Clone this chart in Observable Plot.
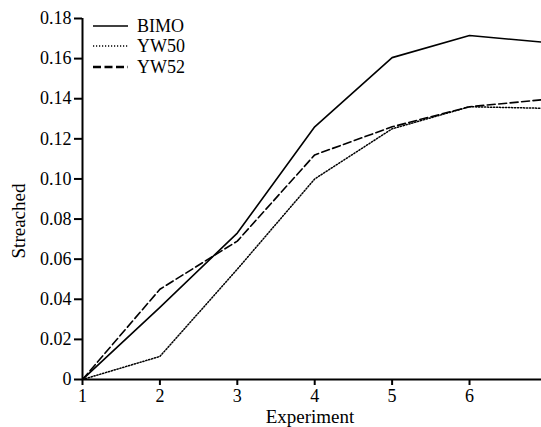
<!DOCTYPE html>
<html>
<head>
<meta charset="utf-8">
<script src="https://cdn.jsdelivr.net/npm/d3@7"></script>
<script src="https://cdn.jsdelivr.net/npm/@observablehq/plot@0.6"></script>
<style>
  html, body { margin: 0; padding: 0; background: #fff; }
  #chart svg { display: block; }
</style>
</head>
<body>
<div id="chart"></div>
<script>
const experiments = [1, 2, 3, 4, 5, 6, 7];
const bimo = [0, 0.036, 0.073, 0.126, 0.1605, 0.1715, 0.168];
const yw50 = [0, 0.0115, 0.055, 0.100, 0.125, 0.136, 0.1352];
const yw52 = [0, 0.045, 0.069, 0.112, 0.126, 0.136, 0.1397];
const seriesNames = ["BIMO", "YW50", "YW52"];
const seriesValues = [bimo, yw50, yw52];
const yTicks = [0, 0.02, 0.04, 0.06, 0.08, 0.10, 0.12, 0.14, 0.16, 0.18];
const xTicks = [1, 2, 3, 4, 5, 6];

const dashes = { BIMO: null, YW50: "1.2,1.8", YW52: "8,3.5" };
const widths = { BIMO: 1.6, YW50: 1.5, YW52: 1.6 };

const rows = [];
seriesNames.forEach((s, i) => experiments.forEach((x, j) => rows.push({ series: s, x, y: seriesValues[i][j] })));

const font = "Liberation Serif";
const yFmt = d => d === 0 ? "0" : d3.format(".2f")(d);

const plot = Plot.plot({
  width: 541,
  height: 427,
  marginLeft: 82,
  marginRight: 0,
  marginTop: 18,
  marginBottom: 48,
  style: "font-family: Liberation Serif; font-size: 18px; color: #000; background: #fff; overflow: visible;",
  x: { domain: [1, 6.93] },
  y: { domain: [0, 0.18] },
  marks: [
    ...seriesNames.map(s => Plot.line(rows.filter(r => r.series === s), {
      x: "x", y: "y", stroke: "#000", strokeWidth: widths[s],
      strokeDasharray: dashes[s], clip: true
    })),
    Plot.axisY({ ticks: yTicks, tickSize: 8, strokeWidth: 2, tickFormat: () => "", label: null }),
    Plot.axisX({ ticks: xTicks, tickSize: 6, strokeWidth: 2, tickFormat: () => "", label: null }),
    Plot.text(yTicks, {
      x: () => 1, y: d => d, text: yFmt, textAnchor: "end", dx: -11,
      fontFamily: font, fontSize: 18, fill: "#000"
    }),
    Plot.text(xTicks, {
      x: d => d, y: () => 0, text: d => String(d), lineAnchor: "middle", dy: 17,
      fontFamily: font, fontSize: 18, fill: "#000"
    }),
    Plot.ruleX([1], { stroke: "#000", strokeWidth: 2 }),
    Plot.ruleY([0], { stroke: "#000", strokeWidth: 2 })
  ]
});

document.getElementById("chart").appendChild(plot);

const svg = d3.select(plot);

// axis titles
svg.append("text")
  .attr("x", 310).attr("y", 423)
  .attr("text-anchor", "middle")
  .attr("font-family", font).attr("font-size", 19)
  .text("Experiment");
svg.append("text")
  .attr("transform", "translate(25,221) rotate(-90)")
  .attr("text-anchor", "middle")
  .attr("font-family", font).attr("font-size", 19)
  .text("Streached");

// legend
const legendY = [26, 46, 67];
const legendW = { BIMO: 1.6, YW50: 1.6, YW52: 2.6 };
seriesNames.forEach((s, i) => {
  const g = svg.append("g");
  g.append("line")
    .attr("x1", 93).attr("x2", 128)
    .attr("y1", legendY[i]).attr("y2", legendY[i])
    .attr("stroke", "#000").attr("stroke-width", legendW[s])
    .attr("stroke-dasharray", dashes[s]);
  g.append("text")
    .attr("x", 137).attr("y", legendY[i]).attr("dy", "0.36em")
    .attr("text-anchor", "start")
    .attr("font-family", font).attr("font-size", 18)
    .text(s);
});
</script>
</body>
</html>
